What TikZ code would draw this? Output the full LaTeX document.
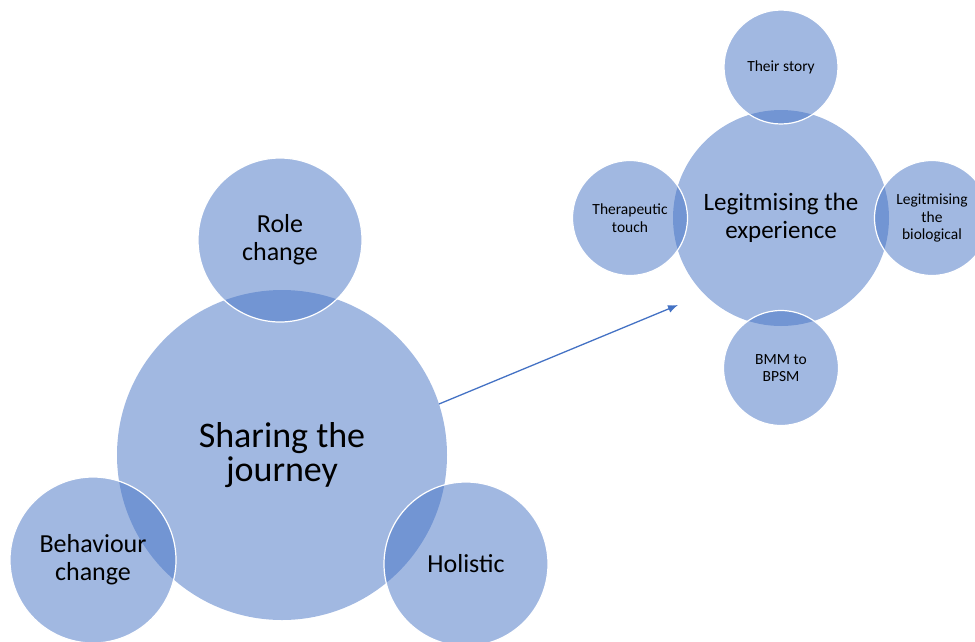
\documentclass[tikz,border=0pt]{standalone}
\usepackage{fontspec}
\setmainfont{Carlito}
\usetikzlibrary{arrows.meta}
\definecolor{bub}{RGB}{68,114,196}
\definecolor{arrowblue}{RGB}{68,114,196}
\tikzset{
  bubble/.style={circle, inner sep=0pt, fill=bub, fill opacity=0.5, text opacity=1, align=center, text=black},
  sat/.style={bubble, draw=white, line width=1.2pt},
  hugetext/.style={font=\fontsize{36}{34}\selectfont},
  bigtext/.style={font=\fontsize{26}{28}\selectfont},
  midtext/.style={font=\fontsize{25}{27.5}\selectfont},
  smalltext/.style={font=\fontsize{15.5}{17.5}\selectfont},
}
\begin{document}
\begin{tikzpicture}[x=1pt, y=-1pt]
\useasboundingbox (0,0) rectangle (975,641);
% left group
\node[bubble, minimum size=330pt, hugetext] (share) at (282,455) {Sharing the\\journey};
\node[sat, minimum size=164pt, bigtext] (role) at (280,240) {Role\\change};
\node[sat, minimum size=166pt, bigtext] (behav) at (93,560) {Behaviour\\change};
\node[sat, minimum size=164pt, bigtext] (holis) at (466,564) {Holistic};
% right group
\node[bubble, minimum size=216pt, midtext] (legit) at (781,218) {Legitmising the\\experience};
\node[sat, minimum size=114pt, smalltext] (story) at (781,67) {Their story};
\node[sat, minimum size=115pt, smalltext] (touch) at (630,218) {Therapeutic\\touch};
\node[sat, minimum size=115pt, smalltext] (bio) at (932,218) {Legitmising\\the\\biological};
\node[sat, minimum size=115pt, smalltext] (bmm) at (781,368) {BMM to\\BPSM};
% arrow
\coordinate (tip) at (678,305);
\draw[-{Latex[length=10pt,width=8pt]}, draw=arrowblue, line width=1.3pt] (share.18) -- (tip);
\end{tikzpicture}
\end{document}
